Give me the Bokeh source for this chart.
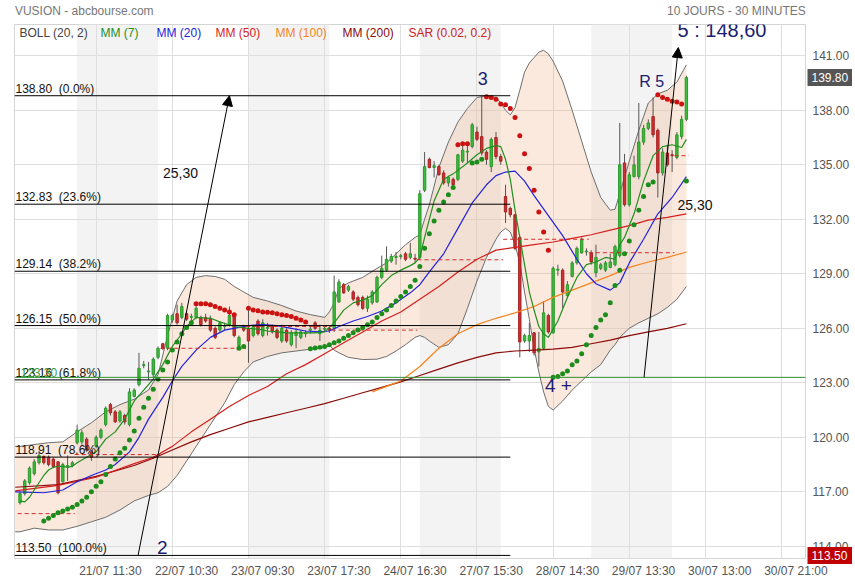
from bokeh.plotting import figure
from bokeh.models import (Range1d, FixedTicker, NumeralTickFormatter, Arrow,
                          NormalHead, ColumnDataSource, LinearAxis)
from bokeh.embed import file_html
from bokeh.resources import INLINE
from bokeh.core.properties import value

# ------------------------------------------------------------------ data
title_text = "VUSION - abcbourse.com"
period_text = "10 JOURS - 30 MINUTES"

x_tick_pos = [16, 32, 48, 64, 80, 96, 112, 128, 144, 160]
x_tick_labels = ["21/07 11:30", "22/07 10:30", "23/07 09:30", "23/07 17:30", "24/07 16:30",
                 "27/07 15:30", "28/07 14:30", "29/07 13:30", "30/07 13:00", "30/07 21:00"]
y_ticks = [114, 117, 120, 123, 126, 129, 132, 135, 138, 141]

opens = [
    116.4, 116.9, 117.5, 118.0, 118.6, 118.95, 118.9, 118.8, 118.65, 117.55,
    118.4, 118.45, 119.7, 119.75, 119.9, 119.2, 119.5, 120.0, 120.7, 121.8,
    121.4, 120.9, 121.2, 120.7, 122.25, 122.9, 123.95, 123.6, 123.45, 124.4,
    125.15, 124.9, 126.45, 126.8, 126.6, 126.8, 126.6, 126.6, 126.6, 126.6,
    126.55, 126.0, 125.9, 126.1, 126.2, 126.75, 125.05, 126.1, 126.0, 125.6,
    126.4, 125.6, 126.0, 126.1, 125.9, 125.3, 125.9, 125.1, 125.6, 125.5,
    125.7, 125.9, 126.3, 125.7, 125.95, 126.0, 126.0, 127.45, 128.4, 128.1,
    128.0, 127.7, 127.7, 127.1, 127.4, 127.45, 128.8, 129.2, 129.7, 129.9,
    129.95, 130.1, 129.9, 129.85, 129.9, 133.6, 135.3, 134.85, 134.9, 134.55,
    134.0, 134.2, 134.2, 135.2, 135.7, 136.0, 136.8, 136.55, 135.7, 134.9,
    136.5, 135.45, 133.25, 132.6, 132.25, 131.0, 125.3, 125.3, 125.75, 124.7,
    124.9, 126.7, 125.75, 129.2, 129.2, 127.8, 128.85, 129.6, 130.15, 130.2,
    130.15, 129.05, 129.3, 129.2, 129.35, 129.5, 130.0, 135.1, 132.8, 134.35,
    134.35, 136.25, 137.0, 137.65, 136.9, 134.55, 135.65, 135.55, 135.4, 136.55,
    137.5]
highs = [
    117.0, 117.7, 118.4, 118.8, 119.25, 119.0, 119.0, 118.9, 118.7, 118.6,
    119.0, 118.7, 120.7, 120.4, 120.0, 119.3, 120.1, 120.5, 121.7, 121.9,
    121.5, 121.5, 121.3, 122.7, 122.7, 124.65, 124.2, 124.15, 124.4, 125.0,
    125.2, 126.8, 126.8, 127.3, 127.4, 126.9, 126.8, 127.3, 126.7, 126.8,
    126.7, 126.1, 126.4, 126.3, 127.2, 126.8, 125.6, 126.2, 127.1, 126.2,
    126.5, 126.5, 126.3, 126.2, 126.0, 126.2, 126.0, 125.9, 126.0, 125.9,
    125.9, 126.1, 126.4, 126.2, 126.1, 126.1, 128.9, 128.7, 128.5, 128.4,
    128.1, 127.8, 127.8, 127.8, 128.1, 128.9, 130.0, 130.5, 130.1, 130.2,
    130.1, 130.2, 130.7, 130.1, 133.6, 135.7, 135.4, 135.2, 135.0, 134.7,
    134.4, 134.3, 135.6, 136.1, 136.1, 137.3, 137.1, 138.8, 135.8, 136.5,
    136.8, 135.6, 133.9, 132.7, 132.3, 131.1, 125.7, 126.3, 125.8, 125.8,
    127.5, 126.8, 129.4, 129.5, 129.3, 128.6, 129.7, 130.5, 131.0, 130.4,
    130.3, 130.6, 129.6, 129.7, 130.1, 130.6, 137.3, 135.6, 134.6, 135.5,
    138.4, 137.2, 137.5, 138.7, 137.0, 135.9, 136.1, 135.8, 136.8, 137.7,
    139.9]
lows = [
    116.3, 116.8, 117.4, 117.9, 118.5, 118.5, 118.4, 118.3, 116.85, 117.5,
    117.6, 118.35, 119.6, 119.6, 119.2, 118.7, 119.4, 119.9, 120.6, 121.2,
    120.8, 120.8, 120.7, 120.6, 122.2, 122.8, 123.8, 123.15, 123.3, 124.3,
    124.8, 124.8, 126.3, 126.2, 126.5, 126.4, 126.4, 126.5, 126.1, 126.3,
    125.8, 125.4, 125.8, 125.9, 126.1, 125.5, 124.95, 125.8, 124.1, 125.5,
    125.6, 125.5, 125.6, 125.7, 125.4, 125.2, 125.2, 125.0, 124.9, 125.4,
    125.5, 125.7, 125.9, 125.3, 125.8, 125.75, 125.8, 127.4, 127.9, 128.0,
    127.5, 127.2, 127.0, 126.9, 127.3, 127.4, 128.7, 129.1, 129.6, 129.5,
    129.8, 129.7, 129.8, 129.6, 129.8, 133.5, 134.8, 134.3, 134.4, 133.9,
    133.8, 133.8, 134.1, 135.1, 135.1, 135.9, 136.3, 135.5, 135.0, 134.6,
    135.3, 135.0, 131.8, 132.1, 130.3, 124.4, 125.2, 124.7, 124.5, 123.9,
    124.8, 125.7, 125.7, 128.9, 127.1, 127.7, 128.8, 129.5, 130.1, 130.0,
    129.5, 128.8, 129.2, 129.1, 129.3, 129.4, 129.9, 132.7, 132.7, 134.3,
    134.2, 136.1, 136.9, 136.5, 133.2, 134.4, 134.9, 134.6, 135.3, 136.4,
    137.4]
closes = [
    116.9, 117.6, 118.3, 118.65, 119.0, 118.6, 118.5, 118.4, 116.95, 118.5,
    118.45, 118.6, 120.4, 120.25, 119.3, 118.9, 120.0, 120.4, 121.6, 121.35,
    120.85, 121.4, 120.85, 122.5, 122.6, 123.8, 124.0, 123.65, 124.3, 124.9,
    124.9, 126.7, 126.7, 126.3, 127.2, 126.5, 126.65, 127.1, 126.2, 126.4,
    125.9, 125.5, 126.3, 126.15, 126.7, 125.6, 125.5, 125.9, 125.3, 126.1,
    125.7, 126.3, 126.05, 125.8, 125.5, 126.0, 125.3, 125.75, 125.8, 125.8,
    125.75, 125.95, 126.0, 125.9, 126.0, 125.9, 128.0, 128.55, 127.95, 128.3,
    127.6, 127.3, 127.1, 127.6, 128.0, 128.8, 129.3, 129.8, 129.95, 129.95,
    130.0, 129.8, 130.1, 129.8, 133.4, 134.9, 134.85, 134.95, 134.45, 134.0,
    134.3, 133.9, 135.55, 135.8, 135.75, 137.2, 136.4, 135.65, 135.3, 136.4,
    135.45, 135.2, 132.4, 132.25, 130.4, 125.25, 125.6, 125.6, 124.65, 124.9,
    126.85, 125.8, 129.3, 129.25, 128.0, 128.4, 129.6, 130.4, 130.9, 130.25,
    129.65, 129.9, 129.5, 129.6, 129.65, 130.5, 135.0, 132.8, 134.45, 135.0,
    136.25, 137.0, 137.3, 136.65, 134.55, 135.7, 135.0, 135.5, 136.65, 137.5,
    139.8]

# Parabolic SAR (0.02, 0.2), one value per bar (None = not drawn)
sar = [
    None, None, None, None, None, 115.4, 115.55, 115.7, 115.85, 115.95,
    116.05, 116.15, 116.3, 116.5, 116.7, 117.0, 117.3, 117.55, 117.95, 118.4,
    118.8, 119.15, 119.4, 119.85, 120.35, 121.05, 121.65, 122.15, 122.65, 123.2,
    123.7, 124.15, 124.8, 125.25, 125.7, 126.05, 126.3, 127.35, 127.35, 127.35,
    127.3, 127.2, 127.1, 127.0, 126.9, 126.75, 124.9, 125.0, 127.1, 127.0,
    126.97, 126.9, 126.88, 126.85, 126.8, 126.75, 126.7, 126.65, 126.55, 126.45,
    126.35, 124.87, 124.92, 124.95, 125.0, 125.1, 125.2, 125.3, 125.45, 125.6,
    125.75, 125.9, 126.05, 126.2, 126.35, 126.6, 126.8, 127.0, 127.25, 127.5,
    127.75, 128.0, 128.3, 128.65, 129.4, 130.4, 131.2, 131.9, 132.5, 132.95,
    133.35, 133.75, 136.1, 136.15, 136.15, 135.1, 135.15, 135.3, 138.75, 138.7,
    138.6, 138.35, 138.3, 138.1, 137.6, 136.6, 135.6, 134.8, 133.6, 132.4,
    131.3, 130.3, 123.3, 123.35, 123.5, 123.65, 124.0, 124.2, 124.6, 125.1,
    125.6, 126.05, 126.45, 126.75, 127.4, 128.35, 129.2, 130.1, 130.8, 131.7,
    132.5, 133.25, 133.9, 134.05, 138.85, 138.7, 138.6, 138.5, 138.45, 138.35,
    134.1]

# first bar of each trading day (20/07 .. 30/07) and the red dashed level per day
day_start = [0, 12, 30, 48, 66, 84, 102, 120, 138]
day_ref = [115.80, 119.05, 124.90, 126.10, 125.90, 129.77, 130.90, 130.16, 135.50]

# moving averages: (bar, value)
mm7 = [(0, 116.5), (1, 116.45), (2, 116.7), (3, 117.1), (4, 117.5), (5, 117.9), (6, 118.2),
       (7, 118.35), (8, 118.4), (9, 118.4), (10, 118.35), (11, 118.4), (12, 118.6), (14, 118.9),
       (16, 119.2), (18, 119.9), (20, 120.3), (22, 121.0), (24, 122.0), (26, 122.6), (28, 123.2),
       (30, 124.0), (32, 125.0), (34, 125.7), (35, 126.1), (37, 126.6), (40, 126.55), (42, 126.35),
       (45, 126.1), (48, 126.0), (50, 125.95), (52, 125.85), (54, 125.8), (56, 125.75), (58, 125.75),
       (60, 125.75), (62, 125.75), (64, 125.8), (66, 126.3), (68, 127.0), (70, 127.4), (72, 127.55),
       (74, 127.8), (76, 128.4), (78, 128.9), (80, 129.2), (82, 129.45), (83, 129.6), (84, 129.9),
       (85, 131.0), (87, 133.0), (89, 134.2), (91, 134.5), (94, 135.1), (96, 135.55), (98, 135.9),
       (100, 136.05), (101, 136.0), (102, 135.3), (103, 134.2), (104, 132.5), (105, 131.0),
       (106, 129.5), (107, 128.0), (108, 127.0), (109, 126.1), (110, 125.7), (111, 125.5),
       (113, 126.4), (115, 127.7), (117, 128.8), (119, 129.5), (121, 129.65), (123, 129.9),
       (125, 129.8), (126, 130.6), (127, 131.0), (129, 132.3), (131, 134.1), (133, 135.5),
       (135, 136.0), (137, 136.1), (139, 135.95), (140, 136.4)]
mm20 = [(-1, 117.0), (5, 116.95), (9, 117.1), (12, 117.55), (15, 117.9), (18, 118.2), (20, 118.5),
        (23, 119.2), (25, 120.0), (27, 121.0), (30, 122.2), (32, 123.1), (34, 123.9), (37, 124.8),
        (40, 125.5), (43, 125.9), (46, 126.05), (48, 126.15), (51, 126.2), (54, 126.15), (57, 126.0),
        (60, 125.85), (63, 125.8), (65, 125.85), (67, 126.1), (70, 126.4), (73, 126.65), (76, 126.95),
        (79, 127.4), (82, 127.95), (84, 128.4), (86, 129.1), (89, 130.1), (92, 131.5), (95, 132.9),
        (98, 133.9), (100, 134.4), (102, 134.6), (104, 134.65), (106, 134.1), (108, 133.3),
        (111, 132.2), (114, 131.1), (117, 129.8), (119, 129.0), (121, 128.45), (124, 128.1),
        (126, 128.5), (128, 129.6), (131, 130.9), (134, 132.3), (137, 133.2), (140, 134.35)]
mm50 = [(-1, 117.05), (8, 117.35), (16, 117.8), (24, 118.55), (28, 118.9), (32, 119.5), (36, 120.3),
        (40, 121.0), (44, 121.7), (48, 122.3), (52, 122.8), (56, 123.5), (60, 124.0), (64, 124.6),
        (68, 125.2), (72, 125.8), (76, 126.4), (80, 126.9), (84, 127.6), (88, 128.3), (92, 129.1),
        (96, 129.8), (100, 130.3), (104, 130.45), (108, 130.6), (112, 130.75), (116, 130.95),
        (120, 131.15), (124, 131.4), (128, 131.65), (132, 131.95), (136, 132.1), (140, 132.3)]
mm100 = [(74, 122.5), (78, 122.9), (80, 123.1), (84, 123.9), (88, 124.9), (92, 125.7), (96, 126.2),
         (100, 126.55), (104, 126.85), (108, 127.2), (112, 127.7), (116, 128.1), (120, 128.5),
         (124, 128.9), (128, 129.35), (132, 129.65), (136, 129.9), (140, 130.2)]
mm200 = [(-1, 117.25), (8, 117.4), (16, 117.85), (24, 118.45), (28, 118.85), (32, 119.3), (36, 119.75),
         (40, 120.15), (44, 120.5), (48, 120.85), (52, 121.1), (56, 121.35), (60, 121.6), (64, 121.85),
         (68, 122.15), (72, 122.45), (76, 122.75), (80, 123.05), (84, 123.4), (88, 123.75), (92, 124.1),
         (96, 124.4), (100, 124.65), (104, 124.75), (108, 124.8), (112, 124.85), (116, 124.95),
         (120, 125.15), (124, 125.35), (128, 125.6), (132, 125.8), (136, 126.0), (140, 126.25)]
# Bollinger (20, 2): (bar, upper, lower)
bollinger = [(-1, 119.5, 114.8), (0, 119.5, 114.8), (3, 119.6, 115.0), (6, 119.7, 114.9), (9, 119.75, 114.9),
             (12, 120.3, 115.1), (15, 120.8, 115.35), (18, 121.4, 115.6), (21, 121.8, 116.0),
             (24, 122.1, 116.5), (27, 122.6, 116.8), (29, 123.45, 116.95), (31, 125.6, 117.3),
             (33, 127.5, 117.9), (35, 128.4, 118.7), (37, 128.8, 119.5), (39, 128.9, 120.3),
             (41, 128.85, 121.1), (43, 128.7, 121.9), (45, 128.3, 122.9), (47, 128.0, 123.6),
             (49, 127.7, 124.15), (52, 127.5, 124.45), (55, 127.25, 124.65), (58, 126.95, 124.75),
             (61, 126.75, 124.85), (63, 126.65, 124.9), (64, 126.6, 124.95), (65, 126.9, 125.05),
             (66, 127.4, 124.8), (67, 128.2, 124.65), (69, 128.5, 124.4), (72, 128.8, 124.28),
             (75, 129.3, 124.3), (77, 129.6, 124.45), (79, 130.1, 124.75), (81, 130.6, 125.1),
             (83, 131.0, 125.5), (84, 131.15, 125.6), (85, 132.0, 125.5), (86, 132.8, 125.3),
             (88, 134.85, 124.95), (90, 136.25, 125.1), (92, 137.35, 125.7), (94, 138.1, 127.1),
             (96, 138.7, 128.6), (98, 138.8, 129.9), (100, 138.7, 130.9), (101, 138.4, 131.3),
             (102, 138.0, 131.5), (103, 137.75, 131.3), (104, 138.15, 130.6), (105, 139.1, 129.6),
             (106, 140.1, 128.0), (107, 140.6, 126.5), (108, 140.9, 124.9), (109, 141.2, 123.6),
             (110, 141.3, 122.5), (111, 141.1, 121.7), (112, 140.7, 121.5), (114, 139.6, 122.0),
             (116, 138.0, 122.6), (118, 136.3, 123.1), (120, 134.6, 123.6), (122, 133.2, 124.0),
             (124, 132.5, 124.8), (125, 132.55, 125.1), (126, 133.4, 125.5), (128, 135.2, 126.0),
             (130, 136.9, 126.3), (132, 138.4, 126.55), (134, 138.9, 126.8), (136, 139.1, 127.15),
             (138, 139.55, 127.6), (140, 140.5, 128.3)]

# Fibonacci retracement
fib_levels = [138.80, 132.83, 129.14, 126.15, 123.16, 118.91, 113.50]
fib_pcts = ["0.0%", "23.6%", "38.2%", "50.0%", "61.8%", "78.6%", "100.0%"]
fib_end_bar = 103
target_base = 123.30
target_text = "5 : 148,60"
move_text = "25,30"
# measured moves (bar start, price start, bar end, price end)
arrows = [(24.8, 113.50, 44.0, 138.80), (131.1, 123.30, 138.3, 141.45)]
# Elliott wave labels (text, bar, price)
waves = [("2", 29.9, 113.94), ("3", 97.2, 139.75), ("4 +", 113.1, 122.87), ("R 5", 132.7, 139.59)]

legend_items = ["BOLL (20, 2)", "MM (7)", "MM (20)", "MM (50)", "MM (100)", "MM (200)", "SAR (0.02, 0.2)"]

# ------------------------------------------------------------------ layout / style
FONT = "Liberation Sans"
X0, X1 = -1.155, 165.02
Y0, Y1 = 113.33, 142.72
FW, FH = 791, 534
PX_X = FW / (X1 - X0)
PX_Y = FH / (Y1 - Y0)
LABEL_SHIFT = 3   # date labels sit 3 bars right of their grid line
HEAD_POS = [13.5, 150.5]   # centres of the two header texts (bars)


def px_x(px):  # page x (frame left = 14) -> data x
    return X0 + (px - 14) / PX_X


def px_y(py):  # page y (frame top = 22) -> data y
    return Y1 - (py - 22) / PX_Y


GREEN, GREEN_LINE = "#3dbb3d", "#2b9a2b"
RED, RED_LINE = "#cc3333", "#a82020"
C_MM7, C_MM20, C_MM50, C_MM100, C_MM200 = "#1f8f1f", "#2222dd", "#d41f1f", "#f5841f", "#8b0a0a"
C_BOLL = "#6e6e6e"
C_WAVE = "#1c1c70"
legend_colors = ["#444444", C_MM7, C_MM20, C_MM50, C_MM100, C_MM200, "#cc2222"]
legend_px = [19, 100, 156, 215, 275, 342, 408]

p = figure(frame_width=FW, frame_height=FH, x_range=Range1d(X0, X1), y_range=Range1d(Y0, Y1),
           y_axis_location="right", output_backend="svg", toolbar_location=None,
           min_border_left=14, min_border_top=22, min_border_right=46, min_border_bottom=20,
           background_fill_color="white", border_fill_color="white", outline_line_color="#d4d4d4")

# axes
ya = p.yaxis[0]
ya.ticker = FixedTicker(ticks=y_ticks)
ya.formatter = NumeralTickFormatter(format="0.00")
xa = p.xaxis[0]
label_pos = [t + LABEL_SHIFT for t in x_tick_pos]
xa.ticker = FixedTicker(ticks=label_pos)
xa.major_label_overrides = {t: s for t, s in zip(label_pos, x_tick_labels)}
head = LinearAxis(ticker=FixedTicker(ticks=HEAD_POS),
                  major_label_overrides={HEAD_POS[0]: title_text, HEAD_POS[1]: period_text})
p.add_layout(head, "above")
for ax in (xa, ya, head):
    ax.axis_line_color = None
    ax.major_tick_line_color = None
    ax.minor_tick_line_color = None
    ax.major_tick_out = 0
    ax.major_tick_in = 0
    ax.major_label_text_font = FONT
    ax.major_label_text_font_size = "12px"
    ax.major_label_text_color = "#555555"
head.major_label_text_color = "#777777"
head.major_label_standoff = 7
ya.major_label_standoff = 7
xa.major_label_standoff = 5

# value tags on the price axis: last close and lowest level
for tag_val, tag_bg in [(closes[-1], "#555555"), (min(fib_levels), "#c00000")]:
    tag = LinearAxis(ticker=FixedTicker(ticks=[tag_val]),
                     formatter=NumeralTickFormatter(format="0.00"))
    tag.axis_line_color = None
    tag.minor_tick_line_color = None
    tag.major_tick_out = 0
    tag.major_tick_in = 45
    tag.major_tick_line_width = 17
    tag.major_tick_line_color = tag_bg
    tag.major_tick_line_cap = "butt"
    tag.major_label_standoff = -41
    tag.major_label_text_font = FONT
    tag.major_label_text_font_size = "12px"
    tag.major_label_text_color = "white"
    p.add_layout(tag, "right")

p.xgrid.ticker = FixedTicker(ticks=x_tick_pos)
p.ygrid.ticker = FixedTicker(ticks=y_ticks)
p.grid.grid_line_color = "#dedede"

# day shading
n = len(closes)
day_end = [s - 1 for s in day_start[1:]] + [n - 1]
shaded = [d for d in range(len(day_start)) if d % 2 == 1]
p.quad(left=[day_start[d] for d in shaded], right=[day_end[d] for d in shaded],
       bottom=Y0, top=Y1, fill_color="#f3f3f3", line_color=None, level="image")

# Bollinger band
bx = [b[0] for b in bollinger]
bu = [b[1] for b in bollinger]
bl = [b[2] for b in bollinger]
p.varea(x=bx, y1=bl, y2=bu, fill_color="#f3a777", fill_alpha=0.25)
p.line(bx, bu, line_color=C_BOLL, line_width=1)
p.line(bx, bl, line_color=C_BOLL, line_width=1)

# candles
idx = list(range(n))
up = [c >= o for o, c in zip(opens, closes)]
src = ColumnDataSource(dict(
    x=idx, h=highs, l=lows,
    top=[max(o, c) for o, c in zip(opens, closes)],
    bot=[min(o, c) for o, c in zip(opens, closes)],
    fill=[GREEN if u else RED for u in up],
    edge=[GREEN_LINE if u else RED_LINE for u in up]))
p.segment(x0="x", y0="l", x1="x", y1="h", source=src, line_color="#555555", line_width=1)
p.vbar(x="x", width=0.5, top="top", bottom="bot", fill_color="fill", line_color="edge",
       line_width=1, source=src)

# moving averages
for series, col in [(mm200, C_MM200), (mm100, C_MM100), (mm50, C_MM50), (mm20, C_MM20), (mm7, C_MM7)]:
    p.line([s[0] for s in series], [s[1] for s in series], line_color=col, line_width=1.2)

# daily reference (red dashed)
p.segment(x0=[s - 0.5 for s in day_start], x1=[e + 0.5 for e in day_end],
          y0=day_ref, y1=day_ref, line_color="#d42a2a", line_dash="4 3", line_width=1)

# SAR dots
sx = [i for i in idx if sar[i] is not None]
sy = [sar[i] for i in sx]
scol = ["#1c8c1c" if sar[i] < closes[i] else "#cc1111" for i in sx]
p.scatter(sx, sy, size=5, fill_color=scol, line_color=None)

# Fibonacci
p.segment(x0=X0, x1=fib_end_bar, y0=fib_levels, y1=fib_levels, line_color="black", line_width=1)
p.text(x=px_x(15), y=fib_levels,
       text=[f"{v:.2f}\u00a0 ({pc})" for v, pc in zip(fib_levels, fib_pcts)],
       text_baseline="bottom", text_align="left", text_font=value(FONT), text_font_size="12px",
       text_color="#111111")

# target base line
p.segment(x0=X0, x1=X1, y0=target_base, y1=target_base, line_color="#2d8f2d", line_width=1)
p.text(x=[px_x(20)], y=[target_base], text=[f"{target_base:.2f}"], text_baseline="bottom",
       text_align="left", text_font=value(FONT), text_font_size="12px", text_color="#3a9a3a")

# arrows
for xs, ys, xe, ye in arrows:
    p.add_layout(Arrow(end=NormalHead(size=10, fill_color="black", line_color="black"),
                       x_start=xs, y_start=ys, x_end=xe, y_end=ye,
                       line_color="black", line_width=1))

# wave labels
wave_sizes = ["19px", "18px", "19px", "16px"]
for (t, wx, wy), fs in zip(waves, wave_sizes):
    p.text(x=[wx], y=[wy], text=[t], text_align="center", text_baseline="middle",
           text_font=value(FONT), text_font_size=fs, text_color=C_WAVE)
p.text(x=[px_x(677)], y=[px_y(27)], text=[target_text], text_align="left", text_baseline="middle",
       text_font=value(FONT), text_font_size="20px", text_color=C_WAVE)
p.text(x=[px_x(180), px_x(677)], y=[px_y(170), px_y(202)], text=[move_text, move_text],
       text_align=["center", "left"], text_baseline="middle", text_font=value(FONT),
       text_font_size="14px", text_color="#111111")

# legend row
p.text(x=[px_x(v) for v in legend_px], y=px_y(30), text=legend_items, text_color=legend_colors,
       text_align="left", text_baseline="middle", text_font=value(FONT), text_font_size="12px")

open("out.html", "w").write(file_html(p, INLINE))
